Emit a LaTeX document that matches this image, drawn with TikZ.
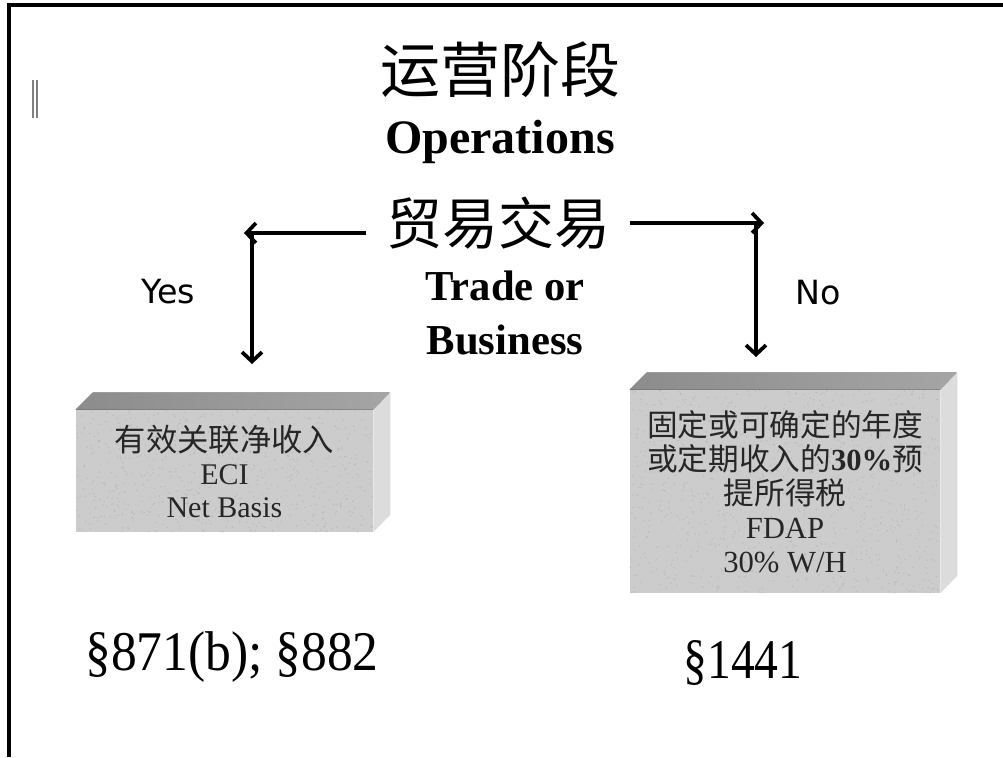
\documentclass[tikz,border=0pt]{standalone}
\usepackage{fontspec}
\setmainfont{Liberation Serif}
\newfontfamily\cjk{Noto Sans CJK SC}
\newfontfamily\sansf{DejaVu Sans}
\usetikzlibrary{arrows.meta}
\definecolor{faceC}{RGB}{204,204,204}
\definecolor{topC}{RGB}{140,140,140}
\definecolor{topD}{RGB}{165,165,165}
\definecolor{sideC}{RGB}{220,220,220}
\definecolor{speck}{RGB}{170,170,170}
\begin{document}
\begin{tikzpicture}[x=0.75pt,y=-0.75pt,
  arr/.style={line width=2.8pt,-{Straight Barb[length=7pt,width=15pt]}},
  front/.style={fill=faceC, inner sep=0pt, align=center, text=black!85},
  topface/.style={left color=topC, right color=topD},
  sideface/.style={fill=sideC}]
\useasboundingbox (0,0) rectangle (1003,757);
\fill[white] (0,0) rectangle (1003,757);
% frame
\coordinate (fa) at (9,757);
\coordinate (fb) at (9,5);
\coordinate (fc) at (1003,5);
\draw[line width=2.4pt] (fa) -- (fb) -- (fc);
% small double bar
\coordinate (b1a) at (33,80); \coordinate (b1b) at (33,118);
\coordinate (b2a) at (37,80); \coordinate (b2b) at (37,118);
\draw[gray, line width=1pt] (b1a) -- (b1b) (b2a) -- (b2b);
% titles
\node[font=\cjk\fontsize{45}{45}\selectfont] (title) at (500,70) {运营阶段};
\node[anchor=base, font=\bfseries\fontsize{36}{36}\selectfont] (ops) at (500,153) {Operations};
\node[font=\cjk\fontsize{42}{42}\selectfont, inner sep=2pt] (trade) at (498,223) {贸易交易};
\node[anchor=base, font=\bfseries\fontsize{32}{32}\selectfont] (tor) at (505,300) {Trade or};
\node[anchor=base, font=\bfseries\fontsize{32}{32}\selectfont] (bus) at (505,354) {Business};
\node[anchor=base, font=\sansf\fontsize{25}{25}\selectfont] (yes) at (168,303) {Yes};
\node[anchor=base, font=\sansf\fontsize{25}{25}\selectfont] (no) at (818,304) {No};
% arrows
\coordinate (lA) at (366,233); \coordinate (lB) at (244,233);
\coordinate (lC) at (252,233); \coordinate (lD) at (252,364);
\coordinate (rA) at (630,223); \coordinate (rB) at (764,223);
\coordinate (rC) at (756,223); \coordinate (rD) at (756,357);
\draw[arr] (lA) -- (lB);
\draw[arr] (lC) -- (lD);
\draw[arr] (rA) -- (rB);
\draw[arr] (rC) -- (rD);
% left block
\node[front, minimum width=222.75pt, minimum height=91.5pt] (eci) at (224.5,471) {};
\begin{scope}
\clip (eci.south west) rectangle (eci.north east);
\pgfmathsetseed{7}
\foreach \i in {1,...,700}{
  \pgfmathsetmacro{\px}{76+297*rnd}\pgfmathsetmacro{\py}{410+122*rnd}
  \fill[speck, opacity=0.5] (\px,\py) circle (0.6pt);}
\end{scope}
\node[align=center, text=black!85, font=\fontsize{22.5}{24.75}\selectfont] (ecit) at (eci.center)
  {{\cjk\fontsize{23.5}{24.75}\selectfont 有效关联净收入}\\ECI\\Net Basis};
\fill[topface] (eci.north west) -- ++(17,-17) -- ++(297,0) -- (eci.north east) -- cycle;
\fill[sideface] (eci.north east) -- ++(17,-17) -- ++(0,122) -- (eci.south east) -- cycle;
% right block
\node[front, minimum width=232.5pt, minimum height=152.25pt] (fdap) at (785,491.5) {};
\begin{scope}
\clip (fdap.south west) rectangle (fdap.north east);
\pgfmathsetseed{11}
\foreach \i in {1,...,1000}{
  \pgfmathsetmacro{\px}{630+310*rnd}\pgfmathsetmacro{\py}{390+203*rnd}
  \fill[speck, opacity=0.5] (\px,\py) circle (0.6pt);}
\end{scope}
\node[align=center, text=black!85, font=\fontsize{23}{25.5}\selectfont] (fdapt) at (fdap.center)
  {{\cjk 固定或可确定的年度}\\{\cjk 或定期收入的}\textbf{30\%}{\cjk 预}\\{\cjk 提所得税}\\FDAP\\30\% W/H};
\fill[topface] (fdap.north west) -- ++(17,-17) -- ++(310,0) -- (fdap.north east) -- cycle;
\fill[sideface] (fdap.north east) -- ++(17,-17) -- ++(0,203) -- (fdap.south east) -- cycle;
% section refs
\node[anchor=base, xscale=0.92, font=\fontsize{42}{42}\selectfont] (s1) at (232,670) {§871(b); §882};
\node[anchor=base, xscale=0.85, font=\fontsize{42}{42}\selectfont] (s2) at (743,678) {§1441};
\end{tikzpicture}
\end{document}
